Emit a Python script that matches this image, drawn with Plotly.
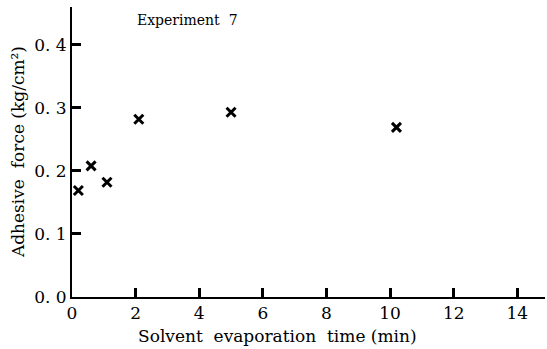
import plotly.graph_objects as go

time_min = [0.2, 0.6, 1.1, 2.1, 5.0, 10.2]
adhesive_force = [0.169, 0.208, 0.182, 0.282, 0.293, 0.269]
x_ticks = [0, 2, 4, 6, 8, 10, 12, 14]
y_ticks = [0.0, 0.1, 0.2, 0.3, 0.4]
y_tick_labels = ["0. 0", "0. 1", "0. 2", "0. 3", "0. 4"]

font = "DejaVu Serif"

fig = go.Figure()
fig.add_trace(go.Scatter(
    x=time_min, y=adhesive_force, mode="markers",
    marker=dict(symbol="x-thin", size=9, line=dict(width=3, color="black"), color="black"),
    showlegend=False,
))

fig.update_layout(
    width=547, height=349,
    margin=dict(l=72, r=2, t=7, b=52),
    paper_bgcolor="white", plot_bgcolor="white",
    font=dict(family=font, color="black"),
    xaxis=dict(
        range=[0, 14.87], tickvals=x_ticks, ticks="inside", ticklen=9, tickwidth=3, tickcolor="black",
        showline=True, linewidth=2, linecolor="black", showgrid=False, zeroline=False,
        tickfont=dict(size=17, family=font),
    ),
    yaxis=dict(
        range=[0, 0.46], tickvals=y_ticks, ticktext=y_tick_labels, ticks="inside", ticklen=9, tickwidth=3,
        tickcolor="black",
        showline=True, linewidth=2, linecolor="black", showgrid=False, zeroline=False,
        tickfont=dict(size=17, family=font),
    ),
    annotations=[
        dict(x=3.63, y=0.44, xref="x", yref="y", text="Experiment  7", showarrow=False,
             font=dict(size=14, family=font)),
        dict(x=6.45, y=-0.135, xref="x", yref="paper", text="Solvent  evaporation  time (min)",
             showarrow=False, font=dict(size=17, family=font), yanchor="middle"),
        dict(x=-0.114, y=0.5, xref="paper", yref="paper", text="Adhesive  force (kg/cm²)",
             showarrow=False, textangle=-90, font=dict(size=17, family=font), xanchor="center"),
    ],
)

fig.write_html("out.html")
